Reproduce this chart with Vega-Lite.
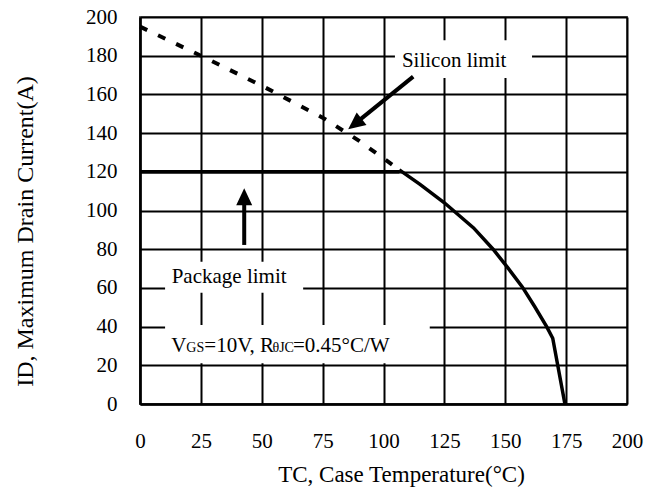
{
  "$schema": "https://vega.github.io/schema/vega-lite/v6.json",
  "width": 487,
  "height": 387,
  "autosize": {"type": "none"},
  "padding": {"left": 140, "top": 17, "right": 28, "bottom": 84},
  "background": "white",
  "config": {
    "font": "Liberation Serif, Times New Roman, serif",
    "text": {"font": "Liberation Serif, Times New Roman, serif"},
    "view": {"stroke": "#666666", "strokeWidth": 2},
    "axis": {
      "grid": true,
      "gridColor": "black",
      "gridWidth": 2,
      "gridOpacity": 1,
      "ticks": false,
      "domainColor": "black",
      "domainWidth": 2.5,
      "labelFont": "Liberation Serif, Times New Roman, serif",
      "labelFontSize": 21,
      "labelColor": "black",
      "labelOverlap": false,
      "labelFlush": false,
      "titleFont": "Liberation Serif, Times New Roman, serif",
      "titleFontSize": 24,
      "titleFontWeight": "normal",
      "titleColor": "black"
    }
  },
  "datasets": {
    "boxes": [
      {"x": 104.7, "x2": 161, "y": 168.5, "y2": 188},
      {"x": 10.3, "x2": 67, "y": 57.5, "y2": 73.5},
      {"x": 10.3, "x2": 119, "y": 21, "y2": 40.8}
    ],
    "silicon": [
      {"x": 0, "y": 195},
      {"x": 25, "y": 180},
      {"x": 50, "y": 164.5},
      {"x": 75, "y": 148},
      {"x": 90, "y": 136},
      {"x": 106.5, "y": 121}
    ],
    "package": [
      {"x": 0, "y": 120},
      {"x": 106.5, "y": 120}
    ],
    "derating": [
      {"x": 106.5, "y": 121},
      {"x": 115, "y": 113.5},
      {"x": 125, "y": 104},
      {"x": 137, "y": 91},
      {"x": 145, "y": 80},
      {"x": 151, "y": 70.5},
      {"x": 157, "y": 60.5},
      {"x": 162, "y": 50.5},
      {"x": 167, "y": 40},
      {"x": 169.5, "y": 34},
      {"x": 174.5, "y": 0}
    ],
    "shaftSilicon": [{"x": 112.2, "y": 169.2, "x2": 88.7, "y2": 145.3}],
    "shaftPackage": [{"x": 42.8, "y": 82.2, "x2": 42.8, "y2": 106.3}],
    "headSilicon": [{"x": 85.5, "y": 142.0}],
    "headPackage": [{"x": 42.8, "y": 111.5}],
    "labels": [
      {"x": 129, "y": 177.2, "text": "Silicon limit"},
      {"x": 36.6, "y": 65.5, "text": "Package limit"}
    ],
    "condBig": [
      {"x": 12.8, "y": 26.9, "text": "V"},
      {"x": 26.4, "y": 26.9, "text": "=10V, R"},
      {"x": 62.8, "y": 26.9, "text": "=0.45°C/W"}
    ],
    "condSmall": [
      {"x": 19.0, "y": 26.9, "text": "GS"},
      {"x": 54.4, "y": 26.9, "text": "θJC"}
    ]
  },
  "encoding": {
    "x": {
      "field": "x",
      "type": "quantitative",
      "scale": {"domain": [0, 200], "nice": false},
      "axis": {
        "values": [0, 25, 50, 75, 100, 125, 150, 175, 200],
        "labelPadding": 26,
        "title": "TC, Case Temperature(°C)",
        "titleFontSize": 23,
        "titleX": 261,
        "titleY": 70,
        "titleAlign": "center",
        "titleBaseline": "middle"
      }
    },
    "y": {
      "field": "y",
      "type": "quantitative",
      "scale": {"domain": [0, 200], "nice": false},
      "axis": {
        "values": [0, 20, 40, 60, 80, 100, 120, 140, 160, 180, 200],
        "labelPadding": 23,
        "title": "ID, Maximum Drain Current(A)",
        "titleAngle": 270,
        "titleX": -115,
        "titleY": 214,
        "titleAlign": "center",
        "titleBaseline": "middle"
      }
    }
  },
  "layer": [
    {
      "data": {"name": "boxes"},
      "mark": {"type": "rect", "fill": "white", "stroke": null},
      "encoding": {"x2": {"field": "x2"}, "y2": {"field": "y2"}}
    },
    {
      "data": {"name": "silicon"},
      "mark": {"type": "line", "color": "black", "strokeWidth": 4, "strokeDash": [8, 12]},
      "encoding": {}
    },
    {
      "data": {"name": "package"},
      "mark": {"type": "line", "color": "black", "strokeWidth": 3.5},
      "encoding": {}
    },
    {
      "data": {"name": "derating"},
      "mark": {"type": "line", "color": "black", "strokeWidth": 3.5},
      "encoding": {}
    },
    {
      "data": {"name": "shaftSilicon"},
      "mark": {"type": "rule", "color": "black", "strokeWidth": 4},
      "encoding": {"x2": {"field": "x2"}, "y2": {"field": "y2"}}
    },
    {
      "data": {"name": "shaftPackage"},
      "mark": {"type": "rule", "color": "black", "strokeWidth": 4},
      "encoding": {"x2": {"field": "x2"}, "y2": {"field": "y2"}}
    },
    {
      "data": {"name": "headSilicon"},
      "mark": {"type": "point", "shape": "M0,0L-0.47,1L0.47,1Z", "filled": true, "color": "black", "opacity": 1, "size": 1156, "angle": 232},
      "encoding": {}
    },
    {
      "data": {"name": "headPackage"},
      "mark": {"type": "point", "shape": "M0,0L-0.47,1L0.47,1Z", "filled": true, "color": "black", "opacity": 1, "size": 1156, "angle": 0},
      "encoding": {}
    },
    {
      "data": {"name": "labels"},
      "mark": {"type": "text", "font": "Liberation Serif, Times New Roman, serif", "fontSize": 21, "color": "black", "align": "center", "baseline": "middle"},
      "encoding": {"text": {"field": "text"}}
    },
    {
      "data": {"name": "condBig"},
      "mark": {"type": "text", "font": "Liberation Serif, Times New Roman, serif", "fontSize": 21, "color": "black", "align": "left", "baseline": "alphabetic"},
      "encoding": {"text": {"field": "text"}}
    },
    {
      "data": {"name": "condSmall"},
      "mark": {"type": "text", "font": "Liberation Serif, Times New Roman, serif", "fontSize": 14, "color": "black", "align": "left", "baseline": "alphabetic"},
      "encoding": {"text": {"field": "text"}}
    }
  ]
}
